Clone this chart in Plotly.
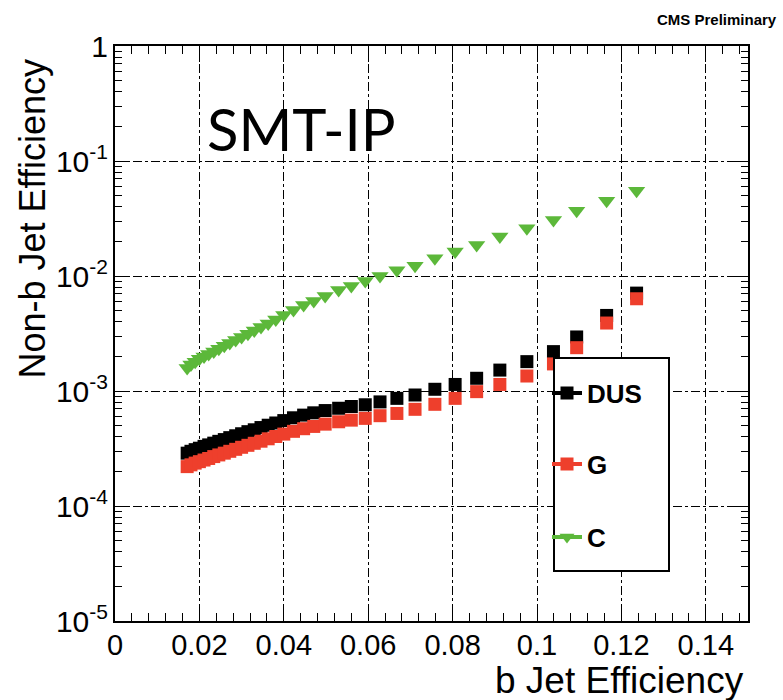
import plotly.graph_objects as go

# b-jet efficiency (shared x for all series)
b_eff = [0.0171, 0.0180, 0.0190, 0.0200, 0.0211, 0.0222, 0.0234, 0.0246, 0.0259,
         0.0272, 0.0286, 0.0300, 0.0315, 0.0330, 0.0346, 0.0363, 0.0381, 0.0400,
         0.0423, 0.0447, 0.0471, 0.0498, 0.0530, 0.0560, 0.0593, 0.0628, 0.0668,
         0.0711, 0.0758, 0.0806, 0.0857, 0.0912, 0.0976, 0.1039, 0.1094, 0.1165,
         0.1236]

dus_eff = [2.88e-4, 2.99e-4, 3.09e-4, 3.18e-4, 3.30e-4, 3.40e-4, 3.52e-4, 3.65e-4, 3.78e-4,
           3.93e-4, 4.08e-4, 4.25e-4, 4.43e-4, 4.60e-4, 4.81e-4, 5.04e-4, 5.27e-4, 5.53e-4,
           5.85e-4, 6.17e-4, 6.46e-4, 6.76e-4, 7.08e-4, 7.33e-4, 7.59e-4, 8.04e-4, 8.63e-4,
           9.23e-4, 1.035e-3, 1.14e-3, 1.29e-3, 1.52e-3, 1.80e-3, 2.20e-3, 2.95e-3, 4.54e-3,
           7.10e-3]

g_eff = [2.20e-4, 2.28e-4, 2.36e-4, 2.43e-4, 2.51e-4, 2.59e-4, 2.69e-4, 2.78e-4, 2.88e-4,
         2.99e-4, 3.11e-4, 3.24e-4, 3.37e-4, 3.51e-4, 3.66e-4, 3.84e-4, 4.02e-4, 4.22e-4,
         4.46e-4, 4.70e-4, 4.92e-4, 5.15e-4, 5.40e-4, 5.58e-4, 5.78e-4, 6.10e-4, 6.38e-4,
         6.93e-4, 7.66e-4, 8.63e-4, 9.87e-4, 1.14e-3, 1.35e-3, 1.72e-3, 2.38e-3, 3.90e-3,
         6.34e-3]

c_eff = [1.585e-3, 1.698e-3, 1.80e-3, 1.905e-3, 2.00e-3, 2.10e-3, 2.21e-3, 2.33e-3, 2.47e-3,
         2.61e-3, 2.78e-3, 2.95e-3, 3.15e-3, 3.36e-3, 3.60e-3, 3.87e-3, 4.19e-3, 4.57e-3,
         5.06e-3, 5.60e-3, 6.07e-3, 6.70e-3, 7.55e-3, 8.18e-3, 9.06e-3, 1.0e-2, 1.12e-2,
         1.23e-2, 1.43e-2, 1.63e-2, 1.86e-2, 2.20e-2, 2.60e-2, 3.07e-2, 3.70e-2, 4.52e-2,
         5.52e-2]

series_names = ["DUS", "G", "C"]
series_colors = ["#000000", "#ee3f2c", "#5cb83a"]
x_ticks = [0, 0.02, 0.04, 0.06, 0.08, 0.1, 0.12, 0.14]
x_tick_labels = ["0", "0.02", "0.04", "0.06", "0.08", "0.1", "0.12", "0.14"]
y_ticks = [1e-5, 1e-4, 1e-3, 1e-2, 1e-1, 1]
y_tick_labels = ["10<sup>-5</sup>", "10<sup>-4</sup>", "10<sup>-3</sup>",
                 "10<sup>-2</sup>", "10<sup>-1</sup>", "1"]

FONT = "Liberation Sans"

fig = go.Figure()

fig.add_trace(go.Scatter(x=b_eff, y=c_eff, mode="markers", showlegend=False,
                         marker=dict(symbol="triangle-down", size=15, color=series_colors[2])))
fig.add_trace(go.Scatter(x=b_eff, y=dus_eff, mode="markers", showlegend=False,
                         marker=dict(symbol="square", size=13, color=series_colors[0])))
fig.add_trace(go.Scatter(x=b_eff, y=g_eff, mode="markers", showlegend=False,
                         marker=dict(symbol="square", size=13, color=series_colors[1])))

# legend entries (line + marker style)
legend_symbols = ["square", "square", "triangle-down"]
legend_ids = ["legend", "legend2", "legend3"]
for name, col, sym, lid in zip(series_names, series_colors, legend_symbols, legend_ids):
    fig.add_trace(go.Scatter(x=[None], y=[None], mode="lines+markers", name=name,
                             legend=lid, line=dict(color=col, width=4),
                             marker=dict(symbol=sym, size=13, color=col)))

# pixel helpers for plot area: x 115..748, y 46..621
L, R, T, B = 115, 748, 46, 621
W, H = 783, 700
def px(xp):
    return (xp - L) / (R - L)
def py(yp):
    return (B - yp) / (B - T)

leg_common = dict(bgcolor="rgba(0,0,0,0)", borderwidth=0, xanchor="left", yanchor="middle",
                  font=dict(family=FONT, size=26, color="black", weight="bold"),
                  itemwidth=30)
fig.update_layout(
    legend=dict(x=px(547), y=py(393), **leg_common),
    legend2=dict(x=px(547), y=py(464), **leg_common),
    legend3=dict(x=px(547), y=py(537), **leg_common),
)

axis_common = dict(showline=True, linecolor="black", linewidth=2, mirror="allticks",
                   ticks="inside", tickcolor="black", tickwidth=1,
                   showgrid=True, gridcolor="black", gridwidth=1, griddash="dashdot",
                   zeroline=False)

fig.update_xaxes(range=[0, 0.15], tickvals=x_ticks, ticktext=x_tick_labels, ticklen=16,
                 ticklabelstandoff=-3, tickfont=dict(family=FONT, size=29, color="black"),
                 minor=dict(ticks="inside", ticklen=8, dtick=0.004, tick0=0, showgrid=False,
                            tickcolor="black"),
                 **axis_common)
fig.update_yaxes(type="log", range=[-5, 0], tickvals=y_ticks, ticktext=y_tick_labels,
                 ticklen=14, ticklabelstandoff=-1,
                 tickfont=dict(family=FONT, size=30, color="black"),
                 minor=dict(ticks="inside", ticklen=7, dtick="D1", showgrid=False,
                            tickcolor="black"),
                 **axis_common)

# legend box
fig.add_shape(type="rect", xref="paper", yref="paper",
              x0=px(554), x1=px(669), y0=py(571), y1=py(358),
              line=dict(color="black", width=2), fillcolor="white", layer="above")

fig.add_annotation(text="Non-b Jet Efficiency", xref="paper", yref="paper",
                   x=px(32), y=py(58), xanchor="center", yanchor="top", textangle=-90,
                   showarrow=False, font=dict(family=FONT, size=36, color="black"))
fig.add_annotation(text="b Jet Efficiency", xref="paper", yref="paper",
                   x=px(746), y=py(680), xanchor="right", yanchor="middle",
                   showarrow=False, font=dict(family=FONT, size=37, color="black"))
fig.add_annotation(text="SMT-IP", xref="paper", yref="paper",
                   x=px(205), y=py(128), xanchor="left", yanchor="middle",
                   showarrow=False, font=dict(family="Lato", size=58, color="black"))
fig.add_annotation(text="<b>CMS Preliminary</b>", xref="paper", yref="paper",
                   x=px(779), y=py(20), xanchor="right", yanchor="middle",
                   showarrow=False, font=dict(family=FONT, size=15, color="black"))

fig.update_layout(width=W, height=H, margin=dict(l=L, r=W - R, t=T, b=H - B),
                  paper_bgcolor="white", plot_bgcolor="white",
                  font=dict(family=FONT, color="black"))

fig.write_html("out.html")
